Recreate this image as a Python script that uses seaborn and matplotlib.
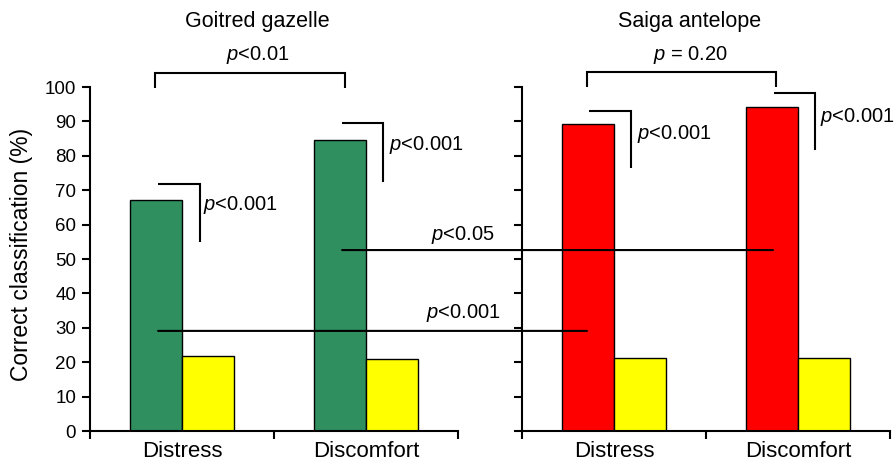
import matplotlib
matplotlib.use("Agg")
import matplotlib.pyplot as plt
from matplotlib.patches import ConnectionPatch
import pandas as pd
import seaborn as sns

# Correct classification (%) per context, with the chance level alongside
categories = ["Distress", "Discomfort"]
gazelle_correct = [67.2, 84.6]
gazelle_chance = [21.8, 20.8]
saiga_correct = [89.2, 94.1]
saiga_chance = [21.1, 21.3]
species_titles = ["Goitred gazelle", "Saiga antelope"]
y_ticks = list(range(0, 101, 10))

sns.set_style("ticks")
plt.rcParams["font.family"] = ["Liberation Sans", "DejaVu Sans"]
plt.rcParams["mathtext.fontset"] = "custom"
plt.rcParams["mathtext.rm"] = "Liberation Sans"
plt.rcParams["mathtext.it"] = "Liberation Sans:italic"
for key in ("text.color", "axes.labelcolor", "axes.edgecolor",
            "xtick.color", "ytick.color"):
    plt.rcParams[key] = "black"

GREEN = "#2f8f5f"
RED = "#ff0000"
YELLOW = "#ffff00"
LW = 1.5
PFONT = 14.5


def frame(correct, chance):
    return pd.DataFrame({
        "context": categories * 2,
        "value": list(correct) + list(chance),
        "kind": ["correct"] * len(categories) + ["chance"] * len(categories),
    })


fig = plt.figure(figsize=(8.95, 4.67), dpi=100)
ax_l = fig.add_axes([90 / 895, 36 / 467, 368 / 895, 344 / 467])
ax_r = fig.add_axes([522 / 895, 36 / 467, 368 / 895, 344 / 467])

for ax, correct, chance, color in [
    (ax_l, gazelle_correct, gazelle_chance, GREEN),
    (ax_r, saiga_correct, saiga_chance, RED),
]:
    sns.barplot(data=frame(correct, chance), x="context", y="value", hue="kind",
                palette=[color, YELLOW], saturation=1, width=0.57,
                edgecolor="black", linewidth=1.0, errorbar=None,
                legend=False, ax=ax)
    ax.set_xlim(-0.5, 1.5)
    ax.set_ylim(0, 100)
    ax.set_yticks(y_ticks)
    ax.set_xlabel("")
    ax.set_ylabel("")
    for side in ("top", "right"):
        ax.spines[side].set_visible(False)
    for side in ("left", "bottom"):
        ax.spines[side].set_linewidth(LW)
        ax.spines[side].set_color("black")
    ax.set_xticks([0, 1])
    ax.set_xticklabels(categories, fontsize=16, color="black")
    ax.set_xticks([-0.5, 0.5, 1.5], minor=True)
    ax.tick_params(axis="x", which="major", length=0, pad=7)
    ax.tick_params(axis="x", which="minor", length=6, width=LW,
                   direction="out", color="black")
    ax.tick_params(axis="y", length=6, width=LW, direction="out",
                   labelsize=13.5, pad=4, color="black", labelcolor="black")

ax_r.tick_params(axis="y", labelleft=False)

ax_l.set_ylabel("Correct classification (%)", fontsize=16.5, color="black")
ax_l.yaxis.set_label_coords(-0.155, 0.512)


def line(ax, xs, ys):
    ax.plot(xs, ys, color="black", lw=LW, clip_on=False,
            solid_capstyle="butt", solid_joinstyle="miter")


def ptext(ax, x, y, s, ha="left"):
    ax.text(x, y, s, ha=ha, va="baseline", fontsize=PFONT, color="black",
            clip_on=False)


# species titles
ax_l.text(0.41, 117.4, species_titles[0], ha="center", va="baseline",
          fontsize=15.5, color="black", clip_on=False)
ax_r.text(0.41, 117.4, species_titles[1], ha="center", va="baseline",
          fontsize=15.5, color="black", clip_on=False)

# Goitred gazelle: distress vs discomfort
line(ax_l, [-0.147, -0.147, 0.885, 0.885], [99.7, 104.1, 104.1, 99.7])
ptext(ax_l, 0.413, 107.8, r"$\mathit{p}$<0.01", ha="center")

# Goitred gazelle: correct vs chance
line(ax_l, [-0.13, 0.098, 0.098], [71.8, 71.8, 55.0])
ptext(ax_l, 0.114, 64.2, r"$\mathit{p}$<0.001")
line(ax_l, [0.87, 1.092, 1.092], [89.5, 89.5, 72.4])
ptext(ax_l, 1.125, 81.7, r"$\mathit{p}$<0.001")

# Saiga antelope: distress vs discomfort
line(ax_r, [-0.147, -0.147, 0.88, 0.88], [100.0, 104.3, 104.3, 100.0])
ptext(ax_r, 0.413, 107.8, r"$\mathit{p}$ = 0.20", ha="center")

# Saiga antelope: correct vs chance
line(ax_r, [-0.136, 0.092, 0.092], [93.0, 93.0, 76.5])
ptext(ax_r, 0.125, 85.0, r"$\mathit{p}$<0.001")
line(ax_r, [0.87, 1.092, 1.092], [98.3, 98.3, 81.7])
ptext(ax_r, 1.12, 89.9, r"$\mathit{p}$<0.001")

# between-species comparisons
for (xa, xb, y) in [(0.87, 0.864, 52.6), (-0.13, -0.147, 29.1)]:
    fig.add_artist(ConnectionPatch(xyA=(xa, y), coordsA=ax_l.transData,
                                   xyB=(xb, y), coordsB=ax_r.transData,
                                   color="black", lw=LW))
ptext(ax_l, 1.527, 55.5, r"$\mathit{p}$<0.05", ha="center")
ptext(ax_l, 1.53, 32.8, r"$\mathit{p}$<0.001", ha="center")

fig.savefig("out.png", dpi=100, facecolor="white")
